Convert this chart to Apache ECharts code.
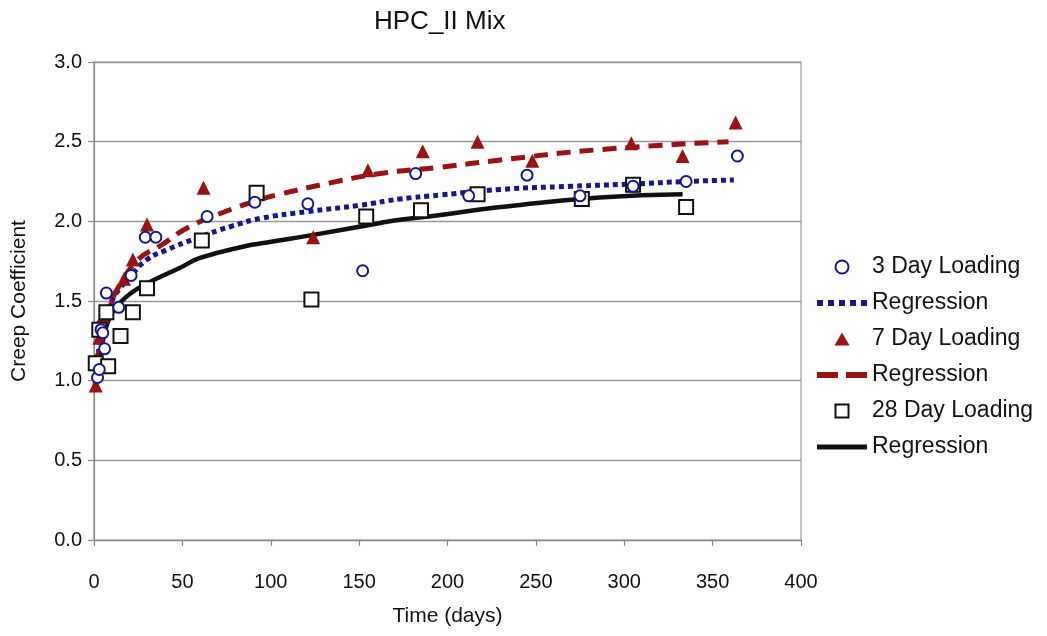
<!DOCTYPE html>
<html>
<head>
<meta charset="utf-8">
<script src="https://cdn.jsdelivr.net/npm/echarts@6/dist/echarts.min.js"></script>
<style>html,body{margin:0;padding:0;background:#fff}#c{width:1047px;height:636px}</style>
</head>
<body>
<div id="c"></div>
<script>
// ---- data ----
var xTicks = [0, 50, 100, 150, 200, 250, 300, 350, 400];
var yTicks = [0.0, 0.5, 1.0, 1.5, 2.0, 2.5, 3.0];

var day3Days   = [2, 3, 4, 5, 6, 7, 14, 21, 29, 35, 64, 91, 121, 152, 182, 212, 245, 275, 305, 335, 364];
var day3Vals   = [1.02, 1.07, 1.32, 1.30, 1.20, 1.55, 1.46, 1.66, 1.90, 1.90, 2.03, 2.12, 2.11, 1.69, 2.30, 2.16, 2.29, 2.16, 2.22, 2.25, 2.41];

var reg3Days   = [1, 3, 5, 7, 10, 14, 21, 30, 41, 57, 78, 95, 120, 150, 173, 196, 230, 270, 306, 335, 362];
var reg3Vals   = [1.00, 1.22, 1.34, 1.42, 1.50, 1.57, 1.66, 1.76, 1.82, 1.89, 1.97, 2.02, 2.06, 2.10, 2.14, 2.165, 2.20, 2.22, 2.235, 2.25, 2.26];

var day7Days   = [1, 2, 3, 4, 5, 10, 17, 22, 30, 62, 124, 155, 186, 217, 248, 304, 333, 363];
var day7Vals   = [0.97, 1.15, 1.27, 1.34, 1.40, 1.48, 1.64, 1.76, 1.98, 2.21, 1.90, 2.32, 2.44, 2.50, 2.38, 2.49, 2.41, 2.62];

var reg7Days   = [0.5, 3, 5, 7, 10, 14, 25, 38, 53, 74, 95, 105, 133, 162, 196, 230, 286, 359];
var reg7Vals   = [0.96, 1.20, 1.32, 1.40, 1.50, 1.59, 1.76, 1.85, 1.96, 2.06, 2.14, 2.17, 2.24, 2.30, 2.34, 2.385, 2.45, 2.50];

var day28Days  = [1, 3, 7, 8, 15, 22, 30, 61, 92, 123, 154, 185, 217, 276, 305, 335];
var day28Vals  = [1.11, 1.32, 1.43, 1.09, 1.28, 1.43, 1.58, 1.88, 2.18, 1.51, 2.03, 2.07, 2.17, 2.14, 2.23, 2.09];

var reg28Days  = [3, 5, 7, 10, 14, 21, 30, 49, 60, 86, 97, 124, 162, 173, 196, 230, 286, 333];
var reg28Vals  = [1.12, 1.25, 1.34, 1.42, 1.48, 1.55, 1.61, 1.71, 1.77, 1.845, 1.865, 1.915, 1.99, 2.01, 2.04, 2.09, 2.15, 2.17];

var seriesNames = ['3 Day Loading', 'Regression', '7 Day Loading', 'Regression ', '28 Day Loading', 'Regression  '];

function pairs(xs, ys) { return xs.map(function (x, i) { return [x, ys[i]]; }); }

var FONT = "'Liberation Sans', Arial, sans-serif";
var BLUE = '#16168f';
var RED = '#9a1212';
var BLACK = '#111111';

var ICON_DOTS = 'path://M0,0h6v6h-6z M11,0h6v6h-6z M22,0h6v6h-6z M33,0h6v6h-6z M44,0h6v6h-6z';
var ICON_DASH = 'path://M0,0h21v6h-21z M29,0h21v6h-21z';
var ICON_SOLID = 'path://M0,0h50v5h-50z';
var ICON_TRI = 'path://M7,0L14,12L0,12z';
var ICON_SQ = 'path://M0,0h12v12h-12z';

var chart = echarts.init(document.getElementById('c'), null, {renderer: 'canvas'});
chart.setOption({
  animation: false,
  backgroundColor: '#ffffff',
  textStyle: {fontFamily: FONT},
  title: {
    text: 'HPC_II Mix',
    left: 369, top: 4,
    textStyle: {fontFamily: FONT, fontSize: 26, fontWeight: 'normal', color: '#111'}
  },
  grid: {
    left: 94, right: 246, top: 62, bottom: 96,
    show: true, borderColor: '#999', borderWidth: 1.2, backgroundColor: 'transparent'
  },
  legend: {
    orient: 'vertical',
    left: 812, top: 249,
    itemWidth: 50, itemHeight: 13, itemGap: 10,
    symbolKeepAspect: true,
    data: [
      {name: seriesNames[0], icon: 'circle', itemStyle: {color: '#fff', borderColor: BLUE, borderWidth: 2}},
      {name: seriesNames[1], icon: ICON_DOTS, itemStyle: {color: BLUE, borderWidth: 0}},
      {name: seriesNames[2], icon: ICON_TRI, itemStyle: {color: RED, borderWidth: 0}},
      {name: seriesNames[3], icon: ICON_DASH, itemStyle: {color: RED, borderWidth: 0}},
      {name: seriesNames[4], icon: ICON_SQ, itemStyle: {color: '#fff', borderColor: BLACK, borderWidth: 2}},
      {name: seriesNames[5], icon: ICON_SOLID, itemStyle: {color: BLACK, borderWidth: 0}}
    ],
    formatter: function (n) { return n.trim(); },
    textStyle: {fontFamily: FONT, fontSize: 23, color: '#111', lineHeight: 26},
    selectedMode: false
  },
  xAxis: {
    type: 'value', min: 0, max: 400, interval: 50,
    name: 'Time (days)', nameLocation: 'middle', nameGap: 66,
    nameTextStyle: {fontFamily: FONT, fontSize: 21, color: '#111'},
    axisLine: {show: true, lineStyle: {color: '#888', width: 1.2}},
    axisTick: {show: true, inside: false, length: 6, lineStyle: {color: '#888', width: 1.2}},
    axisLabel: {fontFamily: FONT, fontSize: 20, color: '#111', margin: 32,
      formatter: function (v) { return xTicks.indexOf(v) >= 0 ? String(v) : ''; }},
    splitLine: {show: false}
  },
  yAxis: {
    type: 'value', min: 0, max: 3, interval: 0.5,
    name: 'Creep Coefficient', nameLocation: 'middle', nameGap: 64,
    nameTextStyle: {fontFamily: FONT, fontSize: 21, color: '#111'},
    axisLine: {show: true, lineStyle: {color: '#888', width: 1.2}},
    axisTick: {show: true, inside: false, length: 6, lineStyle: {color: '#888', width: 1.2}},
    axisLabel: {fontFamily: FONT, fontSize: 20, color: '#111', margin: 12,
      formatter: function (v) { return v.toFixed(1); }},
    splitLine: {show: true, lineStyle: {color: '#999', width: 1.3}}
  },
  series: [
    {
      name: seriesNames[1], type: 'line', data: pairs(reg3Days, reg3Vals),
      symbol: 'none', smooth: true, z: 3,
      lineStyle: {color: BLUE, width: 5, type: [5, 4], cap: 'butt'},
      itemStyle: {color: BLUE}
    },
    {
      name: seriesNames[3], type: 'line', data: pairs(reg7Days, reg7Vals),
      symbol: 'none', smooth: true, z: 3,
      lineStyle: {color: RED, width: 5, type: [14, 9], cap: 'butt'},
      itemStyle: {color: RED}
    },
    {
      name: seriesNames[5], type: 'line', data: pairs(reg28Days, reg28Vals),
      symbol: 'none', smooth: true, z: 3,
      lineStyle: {color: BLACK, width: 4.5},
      itemStyle: {color: BLACK}
    },
    {
      name: seriesNames[0], type: 'scatter', data: pairs(day3Days, day3Vals),
      symbol: 'circle', symbolSize: 11, z: 5,
      itemStyle: {color: '#ffffff', borderColor: BLUE, borderWidth: 2, opacity: 1}
    },
    {
      name: seriesNames[2], type: 'scatter', data: pairs(day7Days, day7Vals),
      symbol: 'triangle', symbolSize: 14, z: 4,
      itemStyle: {color: RED, opacity: 1}
    },
    {
      name: seriesNames[4], type: 'scatter', data: pairs(day28Days, day28Vals),
      symbol: 'rect', symbolSize: 14, z: 4,
      itemStyle: {color: '#ffffff', borderColor: BLACK, borderWidth: 2, opacity: 1}
    }
  ]
});
</script>
</body>
</html>
